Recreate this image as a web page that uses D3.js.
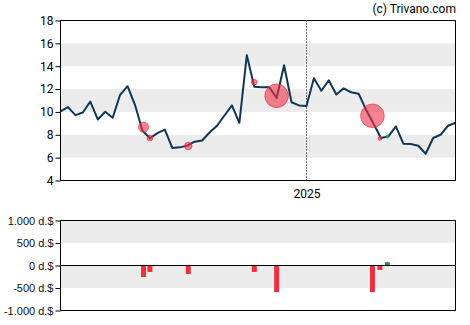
<!DOCTYPE html>
<html><head><meta charset="utf-8">
<script src="https://cdn.jsdelivr.net/npm/d3@7"></script>
<style>html,body{margin:0;padding:0;background:#fff;}svg{display:block;}</style>
</head><body>
<svg id="c" width="470" height="325"></svg>
<script>
// weekly closing prices, starting 2024-05-15
const startDate = "2024-05-15";
const prices = [10.04,10.42,9.72,9.95,10.91,9.34,10.01,9.49,11.5,12.25,10.6,8.35,7.7,8.15,8.46,6.85,6.9,7.05,7.4,7.5,8.2,8.79,9.69,10.57,9.05,14.97,12.2,12.17,12.17,11.22,14.08,10.85,10.57,10.52,12.94,11.85,12.77,11.52,12.07,11.72,11.6,10.19,8.96,7.72,7.86,8.73,7.22,7.19,7.04,6.34,7.72,8.0,8.79,9.05];
// insider trades
const tradeDates = ["2024-08-01","2024-08-07","2024-09-12","2024-11-13","2024-12-04","2025-03-04","2025-03-11","2025-03-18"];
const tradePrices = [8.67,7.72,7.02,12.6,11.41,9.66,7.68,7.85];
const tradeValues = [-255,-143,-188,-143,-591,-591,-98,74]; // thousand $
const priceTicks = [4,6,8,10,12,14,16,18];
const priceBands = [[6,8],[10,12],[14,16]];
const valueTicks = [1000,500,0,-500,-1000];
const valueTickLabels = ["1.000 d.$","500 d.$","0 d.$","-500 d.$","-1.000 d.$"];
const valueBands = [[500,1000],[-500,0]];
const yearTick = "2025-01-01";
const yearLabel = "2025";

const parse = d3.timeParse("%Y-%m-%d");
const d0 = parse(startDate);
const dates = prices.map((p,i)=>d3.timeDay.offset(d0, 7*i));
const svg = d3.select("#c");
const L = 60.5, R = 455.5;
const x = d3.scaleTime().domain([dates[0], dates[dates.length-1]]).range([L, R]);
const y = d3.scaleLinear().domain([4,18]).range([180.5, 20.5]);
const y2 = d3.scaleLinear().domain([-1000,1000]).range([310.5, 220.5]);

// bands top
svg.append("g").selectAll("rect").data(priceBands).join("rect")
  .attr("x", L).attr("width", R-L)
  .attr("y", d=>y(d[1])).attr("height", d=>y(d[0])-y(d[1]))
  .attr("fill", "#ececec");
// bands bottom
svg.append("g").selectAll("rect").data(valueBands).join("rect")
  .attr("x", L).attr("width", R-L)
  .attr("y", d=>y2(d[1])).attr("height", d=>y2(d[0])-y2(d[1]))
  .attr("fill", "#ececec");

// dotted year line
const yd = parse(yearTick);
svg.append("line").attr("x1", Math.round(x(yd))+0.5).attr("x2", Math.round(x(yd))+0.5)
  .attr("y1", y(18)).attr("y2", y(4))
  .attr("stroke", "#000").attr("stroke-width", 1).attr("stroke-dasharray", "1,2");

// price line
svg.append("path").datum(prices)
  .attr("fill","none").attr("stroke","#0f3656").attr("stroke-width",2).attr("stroke-linejoin","round")
  .attr("d", d3.line().x((d,i)=>x(dates[i])).y(d=>y(d)));

// trade circles
const r = d3.scaleLinear().domain([0,600]).range([0,12]);
svg.append("g").selectAll("circle").data(tradeDates).join("circle")
  .attr("cx", d=>x(parse(d))).attr("cy", (d,i)=>y(tradePrices[i]))
  .attr("r", (d,i)=>r(Math.abs(tradeValues[i])))
  .attr("fill", (d,i)=>tradeValues[i]<0 ? "rgba(238,50,70,0.6)" : "rgba(40,150,70,0.7)")
  .attr("stroke", (d,i)=>tradeValues[i]<0 ? "rgba(230,40,60,0.6)" : "rgba(40,150,70,0.7)")
  .attr("stroke-width", 1);

// bars
const bw = 5;
svg.append("g").selectAll("rect").data(tradeDates).join("rect")
  .attr("x", d=>x(parse(d))-bw/2).attr("width", bw)
  .attr("y", (d,i)=>Math.min(y2(0), y2(tradeValues[i])))
  .attr("height", (d,i)=>Math.abs(y2(tradeValues[i])-y2(0)))
  .attr("fill", (d,i)=>tradeValues[i]<0 ? "#ee2e40" : "#2e8b4a");

// zero line
svg.append("line").attr("x1", L).attr("x2", R).attr("y1", y2(0)).attr("y2", y2(0))
  .attr("stroke","#000").attr("stroke-width",1);

// frames
svg.append("rect").attr("x", L).attr("y", y(18)).attr("width", R-L).attr("height", y(4)-y(18))
  .attr("fill","none").attr("stroke","#000").attr("stroke-width",1);
svg.append("rect").attr("x", L).attr("y", y2(1000)).attr("width", R-L).attr("height", y2(-1000)-y2(1000))
  .attr("fill","none").attr("stroke","#000").attr("stroke-width",1);

// axes
const ay = svg.append("g").attr("transform", `translate(${L},0)`)
  .call(d3.axisLeft(y).tickValues(priceTicks).tickSize(5).tickPadding(2).tickFormat(d3.format("d")));
ay.select(".domain").remove();
ay.selectAll("text").attr("font-family","Roboto, 'Liberation Sans', Arial, sans-serif").attr("font-size",12).attr("fill","#000");
ay.selectAll("line").attr("stroke","#000");

const ax = svg.append("g").attr("transform", `translate(0,${y(4)})`)
  .call(d3.axisBottom(x).tickValues([yd]).tickSize(0).tickPadding(9).tickFormat(()=>yearLabel));
ax.select(".domain").remove();
ax.selectAll("text").attr("font-family","Roboto, 'Liberation Sans', Arial, sans-serif").attr("font-size",12).attr("fill","#000");

const ay2 = svg.append("g").attr("transform", `translate(${L},0)`)
  .call(d3.axisLeft(y2).tickValues(valueTicks).tickSize(5).tickPadding(2).tickFormat((d,i)=>valueTickLabels[i]));
ay2.select(".domain").remove();
ay2.selectAll("text").attr("font-family","'Liberation Sans', Arial, sans-serif").attr("font-size",11).attr("fill","#111");
ay2.selectAll("line").attr("stroke","#000");

svg.append("text").attr("x", 456).attr("y", 13).attr("text-anchor","end")
  .attr("font-family","Roboto, 'Liberation Sans', Arial, sans-serif").attr("font-size",12).attr("fill","#000")
  .text("(c) Trivano.com");
</script>
</body></html>
